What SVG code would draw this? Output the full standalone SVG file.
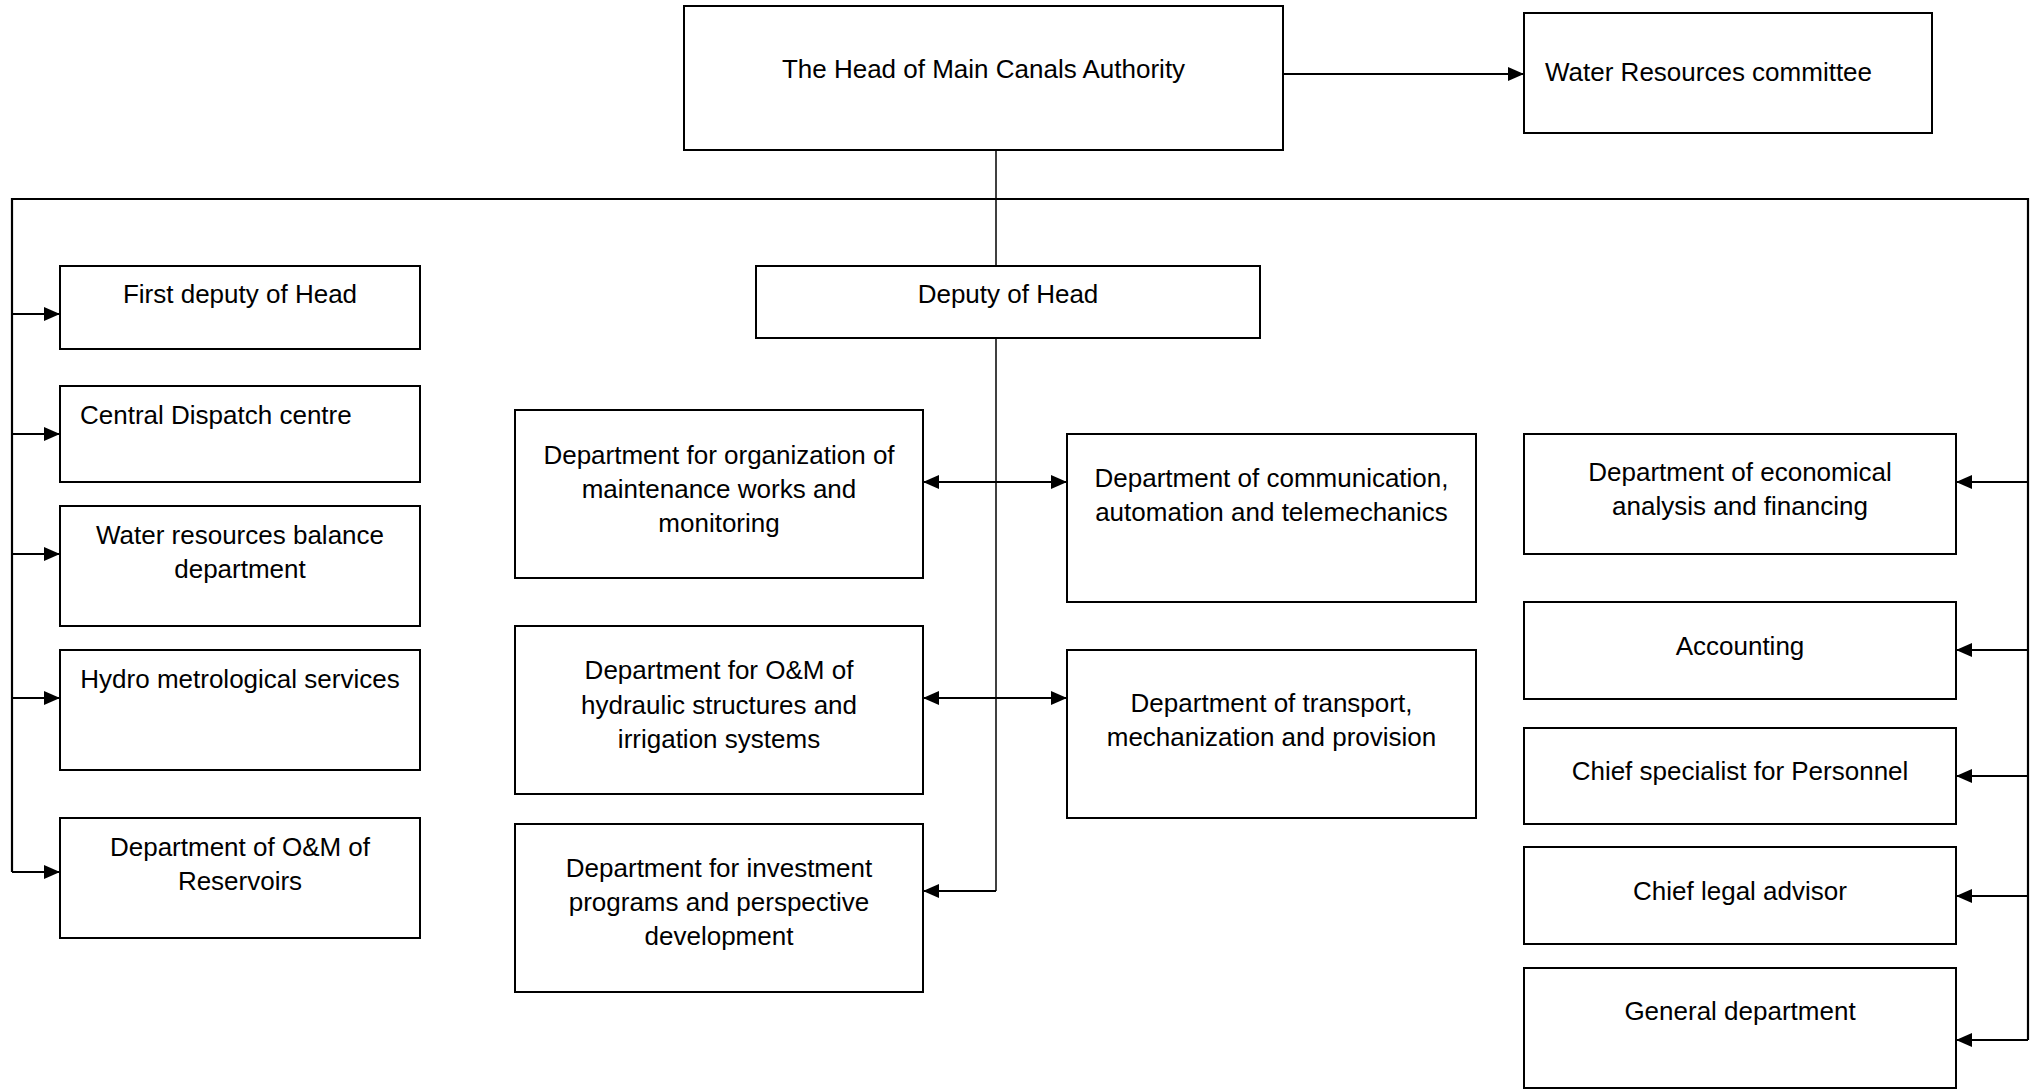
<svg xmlns="http://www.w3.org/2000/svg" width="2037" height="1089" viewBox="0 0 2037 1089">
<style>
.box{fill:#fff;stroke:#000;stroke-width:2}
.t{font-family:"Liberation Sans",Arial,sans-serif;font-size:26px;fill:#000;text-anchor:middle}
.ts{text-anchor:start}
.c{fill:none;stroke:#000;stroke-width:2.2}
.thin{fill:none;stroke:#000;stroke-width:1.5}
</style>
<defs>
<marker id="ah" markerUnits="userSpaceOnUse" markerWidth="16" markerHeight="14" refX="16" refY="7" orient="auto-start-reverse" viewBox="0 0 16 14">
<path d="M0,0 L16,7 L0,14 Z" fill="#000"/>
</marker>
</defs>
<rect width="2037" height="1089" fill="#fff"/>
<g id="connectors">
<line class="c" x1="1283" y1="74" x2="1524" y2="74" marker-end="url(#ah)"/>
<line class="thin" x1="996" y1="150" x2="996" y2="266"/>
<path class="c" d="M12,872 V199 H2028 V1040"/>
<path class="thin" d="M996,338 V891"/>
<line class="c" x1="996" y1="891" x2="923" y2="891" marker-end="url(#ah)"/>
<line class="c" x1="12" y1="314" x2="60" y2="314" marker-end="url(#ah)"/>
<line class="c" x1="12" y1="434" x2="60" y2="434" marker-end="url(#ah)"/>
<line class="c" x1="12" y1="554" x2="60" y2="554" marker-end="url(#ah)"/>
<line class="c" x1="12" y1="698" x2="60" y2="698" marker-end="url(#ah)"/>
<line class="c" x1="12" y1="872" x2="60" y2="872" marker-end="url(#ah)"/>
<line class="c" x1="923" y1="482" x2="1067" y2="482" marker-start="url(#ah)" marker-end="url(#ah)"/>
<line class="c" x1="923" y1="698" x2="1067" y2="698" marker-start="url(#ah)" marker-end="url(#ah)"/>
<line class="c" x1="2028" y1="482" x2="1956" y2="482" marker-end="url(#ah)"/>
<line class="c" x1="2028" y1="650" x2="1956" y2="650" marker-end="url(#ah)"/>
<line class="c" x1="2028" y1="776" x2="1956" y2="776" marker-end="url(#ah)"/>
<line class="c" x1="2028" y1="896" x2="1956" y2="896" marker-end="url(#ah)"/>
<line class="c" x1="2028" y1="1040" x2="1956" y2="1040" marker-end="url(#ah)"/>
</g>
<g id="head"><rect class="box" x="684" y="6" width="599" height="144"/><text class="t" x="983.5" y="78">The Head of Main Canals Authority</text></g>
<g id="committee"><rect class="box" x="1524" y="13" width="408" height="120"/><text class="t ts" x="1545" y="81">Water Resources committee</text></g>
<g id="deputy"><rect class="box" x="756" y="266" width="504" height="72"/><text class="t" x="1008" y="303">Deputy of Head</text></g>
<g id="first-deputy"><rect class="box" x="60" y="266" width="360" height="83"/><text class="t" x="240" y="303">First deputy of Head</text></g>
<g id="central-dispatch"><rect class="box" x="60" y="386" width="360" height="96"/><text class="t ts" x="80" y="424">Central Dispatch centre</text></g>
<g id="water-balance"><rect class="box" x="60" y="506" width="360" height="120"/><text class="t" x="240" y="544">Water resources balance</text><text class="t" x="240" y="578">department</text></g>
<g id="hydro"><rect class="box" x="60" y="650" width="360" height="120"/><text class="t" x="240" y="688">Hydro metrological services</text></g>
<g id="reservoirs"><rect class="box" x="60" y="818" width="360" height="120"/><text class="t" x="240" y="856">Department of O&amp;M of</text><text class="t" x="240" y="890">Reservoirs</text></g>
<g id="org-maintenance"><rect class="box" x="515" y="410" width="408" height="168"/><text class="t" x="719" y="464">Department for organization of</text><text class="t" x="719" y="498">maintenance works and</text><text class="t" x="719" y="532">monitoring</text></g>
<g id="om-hydraulic"><rect class="box" x="515" y="626" width="408" height="168"/><text class="t" x="719" y="679">Department for O&amp;M of</text><text class="t" x="719" y="714">hydraulic structures and</text><text class="t" x="719" y="748">irrigation systems</text></g>
<g id="investment"><rect class="box" x="515" y="824" width="408" height="168"/><text class="t" x="719" y="877">Department for investment</text><text class="t" x="719" y="911">programs and perspective</text><text class="t" x="719" y="945">development</text></g>
<g id="communication"><rect class="box" x="1067" y="434" width="409" height="168"/><text class="t" x="1271.5" y="487">Department of communication,</text><text class="t" x="1271.5" y="521">automation and telemechanics</text></g>
<g id="transport"><rect class="box" x="1067" y="650" width="409" height="168"/><text class="t" x="1271.5" y="712">Department of transport,</text><text class="t" x="1271.5" y="746">mechanization and provision</text></g>
<g id="economical"><rect class="box" x="1524" y="434" width="432" height="120"/><text class="t" x="1740" y="481">Department of economical</text><text class="t" x="1740" y="515">analysis and financing</text></g>
<g id="accounting"><rect class="box" x="1524" y="602" width="432" height="97"/><text class="t" x="1740" y="655">Accounting</text></g>
<g id="personnel"><rect class="box" x="1524" y="728" width="432" height="96"/><text class="t" x="1740" y="780">Chief specialist for Personnel</text></g>
<g id="legal"><rect class="box" x="1524" y="847" width="432" height="97"/><text class="t" x="1740" y="900">Chief legal advisor</text></g>
<g id="general"><rect class="box" x="1524" y="968" width="432" height="120"/><text class="t" x="1740" y="1020">General department</text></g>
</svg>
